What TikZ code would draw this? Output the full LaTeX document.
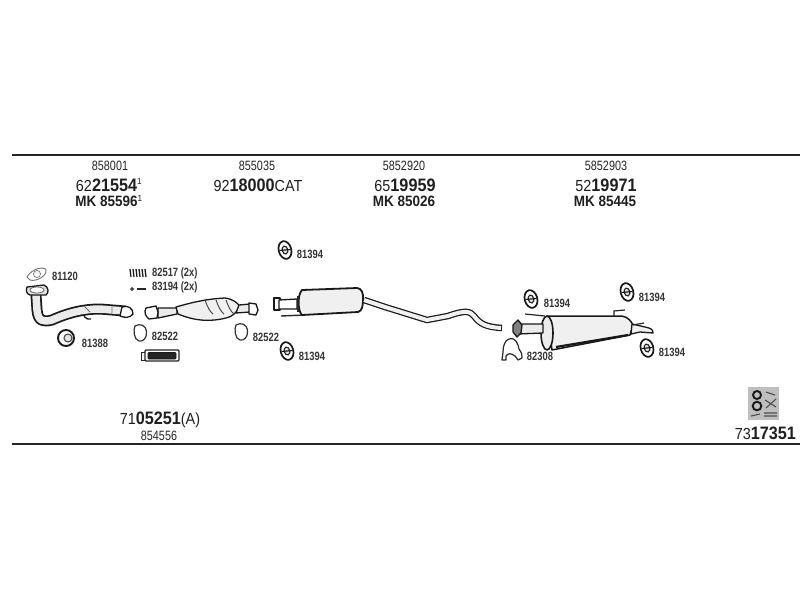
\documentclass[tikz,border=0pt]{standalone}
\usepackage{fontspec}
\setmainfont{Liberation Sans}
\tikzset{
 x=1pt,y=-1pt,
 rule/.style={line width=2.2pt,draw=black!85},
 ptxt/.style={inner sep=0pt,font=\fontsize{13.5}{14}\selectfont,xscale=.8,text=black!85},
 big/.style={inner sep=0pt,font=\fontsize{16}{17}\selectfont,xscale=.9,text=black!88},
 lab/.style={inner sep=0pt,font=\bfseries\fontsize{12}{13}\selectfont,xscale=.78,text=black!80},
 part/.style={draw=black!90,line width=1.3pt,fill=white,line join=round},
 fine/.style={draw=black!75,line width=.9pt},
 hanger/.pic={
  \draw[black!90,line width=1.7pt,fill=white,rotate=15] (0,0) ellipse (6.3 and 9);
  \draw[black!85,line width=1.2pt,fill=black!10,rotate=15] (0,0) ellipse (2.8 and 4);
  \draw[black!90,line width=1.2pt] (-5.5,0.5)--(5.5,-0.5);
 },
 gasket/.pic={
  \draw[black!80,line width=1.2pt,fill=white] (-5,-7) .. controls (0,-10) and (6,-8) .. (6.5,-1)
    .. controls (7,5) and (3,9) .. (-1,8) .. controls (-6,7) and (-7,-3) .. (-5,-7) -- cycle;
 }
}
\newcommand{\Bg}[2]{#1\textbf{\fontsize{18}{19}\selectfont #2}}
\begin{document}
\begin{tikzpicture}
\useasboundingbox (0,0) rectangle (800,600);
\fill[white] (0,0) rectangle (800,600);
\coordinate (tl) at (12,155); \coordinate (tr) at (800,155);
\coordinate (bl) at (12,444); \coordinate (br) at (800,444);
\draw[rule] (tl)--(tr);
\draw[rule] (bl)--(br);

% header texts
\node[ptxt] (a1) at (110,166) {858001};
\node[big] (a2) at (109,185) {\Bg{62}{21554}\textsuperscript{\fontsize{9}{9}\selectfont 1}};
\node[big] (a3) at (109,201) {\fontsize{15}{16}\selectfont\textbf{MK 85596}\textsuperscript{\fontsize{9}{9}\selectfont 1}};
\node[ptxt] (b1) at (257,166) {855035};
\node[big] (b2) at (258,185) {\Bg{92}{18000}CAT};
\node[ptxt] (c1) at (404,166) {5852920};
\node[big] (c2) at (405,185) {\Bg{65}{19959}};
\node[big] (c3) at (404,201) {\fontsize{15}{16}\selectfont\textbf{MK 85026}};
\node[ptxt] (d1) at (606,166) {5852903};
\node[big] (d2) at (606,185) {\Bg{52}{19971}};
\node[big] (d3) at (605,201) {\fontsize{15}{16}\selectfont\textbf{MK 85445}};
\node[big] (e1) at (160,420) {\Bg{71}{05251}(A)};
\node[ptxt] (e2) at (159,436) {854556};
\node[big,anchor=east] (f1) at (796,433) {\Bg{73}{17351}};

% front pipe
\draw[part] (84,311) .. controls (82,316) and (86,320) .. (91,319);
\draw[line width=11pt,black!90,line cap=round,line join=round] (36,295) -- (37,310) .. controls (38,322) and (44,322) .. (52,320) .. controls (70,312) and (85,309) .. (100,309) -- (125,311);
\draw[line width=7.5pt,black!8,line cap=round,line join=round] (36,295) -- (37,310) .. controls (38,322) and (44,322) .. (52,320) .. controls (70,312) and (85,309) .. (100,309) -- (125,311);
\draw[black!60,line width=.8pt] (84,306) -- (90,312) (112,306)--(112,313);
\draw[part] (122,307) .. controls (128,305) and (133,308) .. (133,314) .. controls (130,318) and (125,318) .. (120,316) -- cycle;
\draw[part,fill=black!12] (27,287) -- (44,285) .. controls (49,287) and (49,293) .. (46,295) -- (30,295) .. controls (26,294) and (26,290) .. (27,287) -- cycle;
\draw[fill=white,draw=black!60,line width=.8pt] (37,290) ellipse (7 and 3);
% 81120 gasket
\draw[black!55,line width=.9pt,fill=white] (27,277) .. controls (32,268) and (45,266) .. (46,270) .. controls (47,276) and (36,282) .. (30,280) -- cycle;
\draw[black!55,line width=.7pt] (37,274) circle (3.5);
\node[lab] (t81120) at (65,276) {81120};
% 81388 ring
\draw[black!90,line width=1.9pt,fill=white] (66,338) circle (8);
\draw[black!70,line width=1.1pt,fill=black!10] (68,338) circle (4);
\node[lab] (t81388) at (95,343) {81388};
% springs & bolts
\foreach \xx in {130,133,136,139,142,145}{\draw[black!90,line width=1.3pt] (\xx,269)--(\xx+1,277);}
\node[lab,anchor=west] (t82517) at (152,273) {82517 (2x)};
\draw[black!80,line width=1pt] (132,289) circle (1.3);
\draw[black!85,line width=1.6pt] (137,289)--(146,289);
\node[lab,anchor=west] (t83194) at (152,287) {83194 (2x)};
% catalytic converter
\draw[part,fill=black!8] (158,308)--(177,308)--(177,314)--(158,318)--cycle;
\draw[part] (146,308) -- (156,306) -- (158,312) -- (157,318) -- (149,319) .. controls (145,316) and (144,312) .. (146,308) -- cycle;
\draw[part,fill=black!6] (176,307) .. controls (190,303) and (205,299) .. (225,298) .. controls (233,299) and (238,303) .. (240,307) .. controls (236,312) and (234,316) .. (226,318) .. controls (210,322) and (195,321) .. (178,314) -- cycle;
\foreach \xx in {205,216,226}{\draw[fine] (\xx,300) .. controls (\xx+2,306) and (\xx+5,312) .. (\xx+8,314);}
\draw[part,fill=black!8] (239,305)--(250,304)--(250,312)--(236,313)--cycle;
\draw[part] (249,303) -- (256,304) -- (258,310) -- (256,315) -- (249,314) -- cycle;
% gaskets and small parts
\pic at (140,333) {gasket};
\pic at (241,332) {gasket};
\node[lab] (t82522a) at (165,336) {82522};
\node[lab] (t82522b) at (266,337) {82522};
\draw[black!85,line width=1pt,fill=white] (141,352) rectangle (145,360);
\draw[black!85,line width=1.3pt,fill=white,rounded corners=1pt] (145,350) rectangle (179,361);
\draw[black!90,line width=.8pt,fill=black!85,rounded corners=1pt] (148,352.5) rectangle (176,359);
% centre muffler
\draw[part,fill=white,line width=1.9pt] (274,298) rectangle (280,310);
\draw[part] (279,300) -- (297,299) -- (297,309) -- (279,309) -- cycle;
\draw[black!85,line width=1.4pt] (281,316) -- (305,315);
\draw[part,line width=1.8pt,fill=black!6] (302,290) -- (357,288) .. controls (361,288) and (364,293) .. (363,300) .. controls (363,306) and (362,311) .. (358,312) -- (302,315) .. controls (298,312) and (297,295) .. (302,290) -- cycle;
\draw[black!85,line width=1.2pt] (298,296) -- (298,312);
\draw[line width=6.5pt,black!90,line join=round] (364,300) -- (385,307) -- (427,320) -- (448,316) .. controls (465,310) and (470,311) .. (474,316) .. controls (480,324) and (486,327) .. (502,328);
\draw[line width=4pt,black!6,line join=round] (364,300) -- (385,307) -- (427,320) -- (448,316) .. controls (465,310) and (470,311) .. (474,316) .. controls (480,324) and (486,327) .. (501,328);
% rear muffler
\draw[part,fill=black!6,line width=1.5pt] (547,316) -- (622,316) .. controls (628,317) and (631,321) .. (633,325) -- (630,335) -- (552,350) -- cycle;
\draw[black!90,line width=2.2pt] (556,347) -- (628,335);
\draw[black!85,line width=1.2pt] (614,316) -- (614,311) -- (625,310);
\draw[part,fill=black!6] (632,324) -- (645,327) .. controls (650,328) and (653,329) .. (653,333) -- (640,332) -- (631,334) -- cycle;
\draw[black!85,line width=1.2pt] (633,325)--(644,323);
\draw[part,fill=black!8,line width=1.6pt] (547,333) ellipse (6 and 17);
\draw[part,fill=black!8] (518,324) -- (543,324) -- (543,333) -- (518,334) -- cycle;
\draw[black!85,line width=1.2pt] (525,314) -- (545,316);
\draw[part,fill=black!50] (518,320) -- (522,325) -- (521,333) -- (517,337) -- (513,332) -- (513,325) -- cycle;
% clamp
\draw[black!85,line width=1.2pt,fill=white,line join=round] (509,339) .. controls (516,337) and (518,344) .. (519,349) .. controls (521,351) and (522,354) .. (522,358) -- (518,360) -- (515,356) .. controls (511,353) and (508,353) .. (506,356) -- (506,360) -- (502,360) -- (503,352) .. controls (503,346) and (505,340) .. (509,339) -- cycle;
\node[lab] (t82308) at (540,356) {82308};
% hangers
\pic at (285,250) {hanger};
\node[lab] (h1) at (310,254) {81394};
\pic at (287,351) {hanger};
\node[lab] (h2) at (312,356) {81394};
\pic at (531,299) {hanger};
\node[lab] (h3) at (557,303) {81394};
\pic at (627,292) {hanger};
\node[lab] (h4) at (652,297) {81394};
\pic at (647,348) {hanger};
\node[lab] (h5) at (672,352) {81394};
% pictogram
\fill[black!25] (748,387) rectangle (779,420);
\draw[black!90,line width=1.9pt] (757,395) circle (4);
\draw[black!90,line width=1.9pt] (757,406) circle (4.3);
\draw[black!70,line width=1.1pt] (766,392)--(775,395) (765,400)--(776,407) (776,399)--(766,408) (764,413)--(777,413) (764,416)--(777,416) (751,416)--(760,414);
\end{tikzpicture}
\end{document}
